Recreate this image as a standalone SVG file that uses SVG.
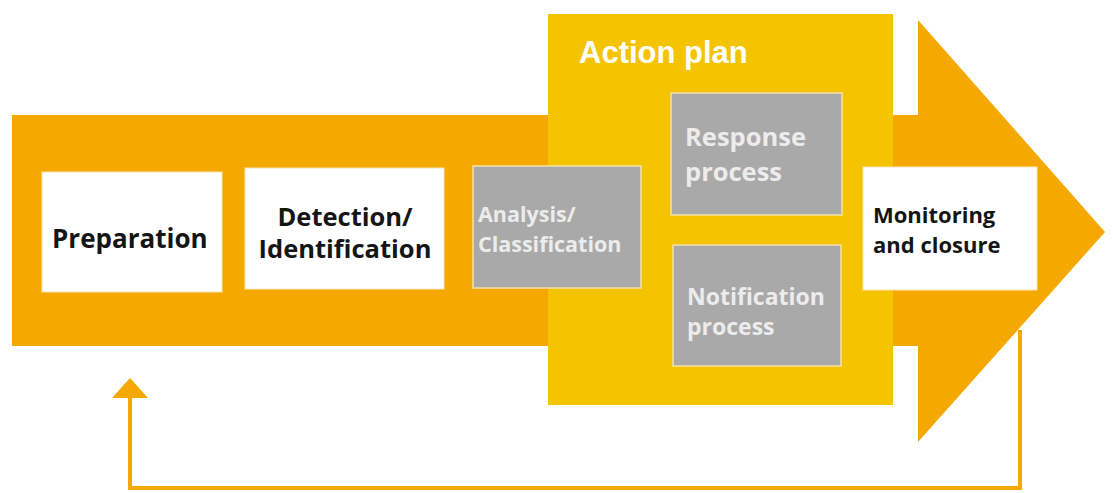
<svg xmlns="http://www.w3.org/2000/svg" width="1113" height="493" viewBox="0 0 1113 493">
<style>
.wb{fill:#ffffff;stroke:#f7e6b8;stroke-width:1}
.gb{fill:#a9a9a9;stroke:#f5e2a6;stroke-width:1.5}
.dk{font-family:"Open Sans","Noto Sans",sans-serif;font-weight:bold;fill:#151515}
.lt{font-family:"Open Sans","Noto Sans",sans-serif;font-weight:bold;fill:#ececec}
</style>
<rect width="1113" height="493" fill="#ffffff"/>
<g id="big-arrow">
<rect x="12" y="115" width="910" height="231" fill="#f5a800"/>
<polygon points="918,20 1105,232 918,442" fill="#f5a800"/>
</g>
<g id="action-plan">
<rect x="548" y="14" width="345" height="391" fill="#f5c400"/>
<text x="579" y="63" font-family="Liberation Sans,Arial,sans-serif" font-weight="bold" font-size="31" fill="#ffffff">Action plan</text>
</g>
<g id="connectors">
<polyline points="1020,330 1020,488 130,488 130,396" fill="none" stroke="#f5a800" stroke-width="4"/>
<polygon points="130,378 112,398 148,398" fill="#f5a800"/>
</g>
<g id="preparation">
<rect class="wb" x="42" y="172" width="180" height="120"/>
<text class="dk" x="52" y="248" font-size="26">Preparation</text>
</g>
<g id="detection">
<rect class="wb" x="245" y="168" width="199" height="121"/>
<text class="dk" x="345" y="226" font-size="25.5" text-anchor="middle">Detection/</text>
<text class="dk" x="345" y="258" font-size="25.5" text-anchor="middle">Identification</text>
</g>
<g id="analysis">
<rect class="gb" x="473" y="166" width="168" height="122"/>
<text class="lt" x="478" y="222" font-size="21.5">Analysis/</text>
<text class="lt" x="478" y="252" font-size="21.5">Classification</text>
</g>
<g id="response">
<rect class="gb" x="671" y="93" width="171" height="122"/>
<text class="lt" x="685" y="146" font-size="25.5">Response</text>
<text class="lt" x="685" y="181" font-size="25.5">process</text>
</g>
<g id="notification">
<rect class="gb" x="673" y="245" width="168" height="121"/>
<text class="lt" x="687" y="305" font-size="23">Notification</text>
<text class="lt" x="687" y="335" font-size="23">process</text>
</g>
<g id="monitoring">
<rect class="wb" x="863" y="167" width="174" height="123"/>
<text class="dk" x="873" y="223" font-size="22">Monitoring</text>
<text class="dk" x="873" y="253" font-size="22">and closure</text>
</g>
</svg>
